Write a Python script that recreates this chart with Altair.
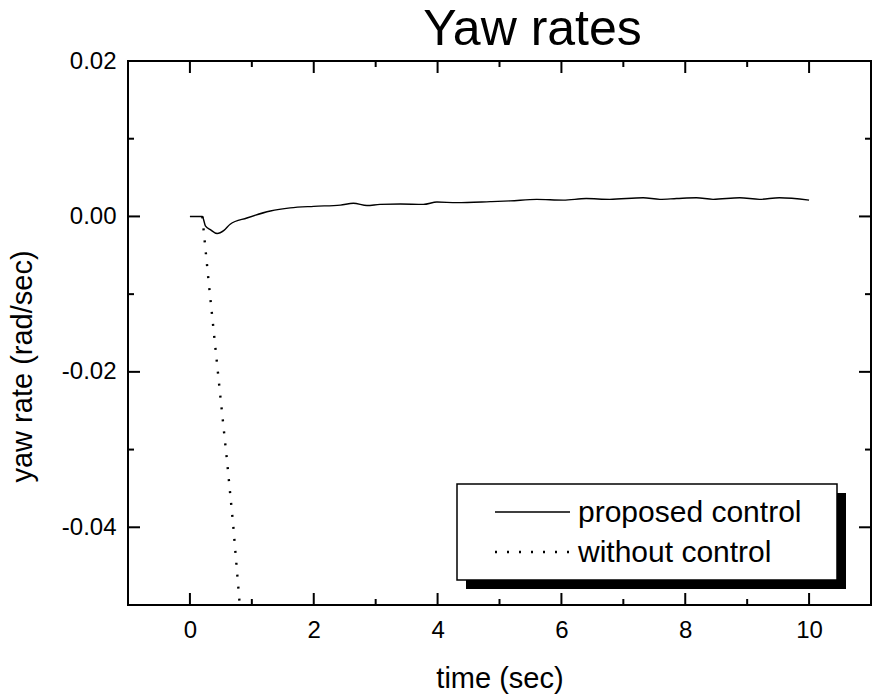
import altair as alt
import pandas as pd

# ---- data ----
series_names = ["proposed control", "without control"]

t_proposed = [0.0, 0.2, 0.25, 0.33, 0.44, 0.55, 0.65, 0.92, 1.3, 1.62, 2.0, 2.43, 2.64,
              2.86, 3.07, 3.4, 3.77, 3.99, 4.31, 4.85, 5.17, 5.6, 6.03, 6.4, 6.78, 7.32,
              7.59, 7.86, 8.18, 8.45, 8.88, 9.2, 9.52, 10.0]
y_proposed = [0.0, 0.0, -0.0012, -0.0017, -0.0022, -0.0018, -0.0010, -0.0002, 0.0007,
              0.0011, 0.0013, 0.00146, 0.0017, 0.0014, 0.00155, 0.0016, 0.00155, 0.00185,
              0.00177, 0.0019, 0.0020, 0.0022, 0.0021, 0.0023, 0.0022, 0.0024, 0.0022,
              0.0023, 0.0024, 0.0022, 0.0024, 0.0022, 0.0024, 0.0021]

t_without = [0.2, 0.3, 0.4, 0.5, 0.6, 0.7, 0.8]
y_without = [0.0, -0.0082, -0.016, -0.0238, -0.0315, -0.0398, -0.0495]

x_major = [0, 2, 4, 6, 8, 10]
x_minor = [1, 3, 5, 7, 9]
y_labels = [0.02, 0.0, -0.02, -0.04]
y_major = [0.0, -0.02, -0.04]
y_minor = [0.01, -0.01, -0.03]

# ---- layout ----
W, H = 743, 544
FONT = "Liberation Sans"
MAJ, MIN = 12, 6

lines_df = pd.concat([
    pd.DataFrame({"t": t_proposed, "y": y_proposed, "series": series_names[0]}),
    pd.DataFrame({"t": t_without, "y": y_without, "series": series_names[1]}),
])

xscale = alt.Scale(domain=[-1, 11], nice=False, zero=False)
yscale = alt.Scale(domain=[-0.05, 0.02], nice=False, zero=False)

base_lines = alt.Chart(lines_df).encode(
    x=alt.X("t:Q", scale=xscale,
            axis=alt.Axis(values=x_major, format="d", ticks=False, domain=False, grid=False,
                          labelFont=FONT, labelFontSize=24, labelPadding=13, labelColor="black",
                          title="time (sec)", titleFont=FONT, titleFontSize=29,
                          titleFontWeight="normal", titlePadding=22, titleColor="black")),
    y=alt.Y("y:Q", scale=yscale,
            axis=alt.Axis(values=y_labels, ticks=False, domain=False, grid=False,
                          labelExpr="(datum.value < 0 ? '-' : '') + format(abs(datum.value), '.2f')",
                          labelFont=FONT, labelFontSize=24, labelPadding=12, labelColor="black",
                          title="yaw rate (rad/sec)", titleFont=FONT, titleFontSize=29,
                          titleFontWeight="normal", titlePadding=24, titleY=305,
                          titleColor="black")),
)

solid = base_lines.transform_filter(alt.datum.series == series_names[0]).mark_line(
    color="black", strokeWidth=1.4, clip=True, interpolate="monotone")
dotted = base_lines.transform_filter(alt.datum.series == series_names[1]).mark_line(
    color="black", strokeWidth=2.4, strokeDash=[2, 10], clip=True)


def xticks(vals, length):
    df = pd.DataFrame({"v": vals})
    base = alt.Chart(df).mark_rule(color="black", strokeWidth=2)
    bottom = base.encode(x=alt.X("v:Q", scale=xscale), y=alt.value(H), y2=alt.value(H - length))
    top = base.encode(x=alt.X("v:Q", scale=xscale), y=alt.value(0), y2=alt.value(length))
    return [bottom, top]


def yticks(vals, length):
    df = pd.DataFrame({"v": vals})
    base = alt.Chart(df).mark_rule(color="black", strokeWidth=2)
    left = base.encode(y=alt.Y("v:Q", scale=yscale), x=alt.value(0), x2=alt.value(length))
    right = base.encode(y=alt.Y("v:Q", scale=yscale), x=alt.value(W), x2=alt.value(W - length))
    return [left, right]


tick_layers = xticks(x_major, MAJ) + xticks(x_minor, MIN) + yticks(y_major, MAJ) + yticks(y_minor, MIN)

leg_df = pd.DataFrame({"name": series_names})

frame = alt.Chart(leg_df.head(1)).mark_rect(filled=False, stroke="black", strokeWidth=2).encode(
    x=alt.value(0), x2=alt.value(W), y=alt.value(0), y2=alt.value(H))

# ---- legend box (drawn) ----
LX0, LX1, LY0, LY1 = 329, 709, 423, 519
SH = 9
shadow = alt.Chart(leg_df.head(1)).mark_rect(color="black").encode(
    x=alt.value(LX0 + SH), x2=alt.value(LX1 + SH), y=alt.value(LY0 + SH), y2=alt.value(LY1 + SH))
box = alt.Chart(leg_df.head(1)).mark_rect(fill="white", stroke="black", strokeWidth=1.5).encode(
    x=alt.value(LX0), x2=alt.value(LX1), y=alt.value(LY0), y2=alt.value(LY1))

legend_layers = [shadow, box]
row_y = [451, 491]
dash_styles = [([1, 0], 1.4), ([2, 10], 2.4)]
for i, name in enumerate(series_names):
    d = leg_df.iloc[[i]]
    dash, sw = dash_styles[i]
    legend_layers.append(
        alt.Chart(d).mark_rule(color="black", strokeWidth=sw, strokeDash=dash).encode(
            x=alt.value(367), x2=alt.value(442), y=alt.value(row_y[i])))
    legend_layers.append(
        alt.Chart(d).mark_text(align="left", baseline="middle", font=FONT, fontSize=30,
                               color="black").encode(
            x=alt.value(450), y=alt.value(row_y[i] + 1), text="name:N"))

chart = alt.layer(solid, dotted, *tick_layers, frame, *legend_layers).properties(
    width=W, height=H,
    autosize=alt.AutoSizeParams(type="none"),
    padding={"left": 128, "top": 61, "right": 3, "bottom": 92},
    title=alt.TitleParams("Yaw rates", font=FONT, fontSize=50, fontWeight="normal",
                          anchor="middle", dx=33, dy=18, offset=12, color="black"),
).configure_view(stroke=None).configure(background="white")

chart.save("out.html", embed_options={"renderer": "svg", "actions": False})
